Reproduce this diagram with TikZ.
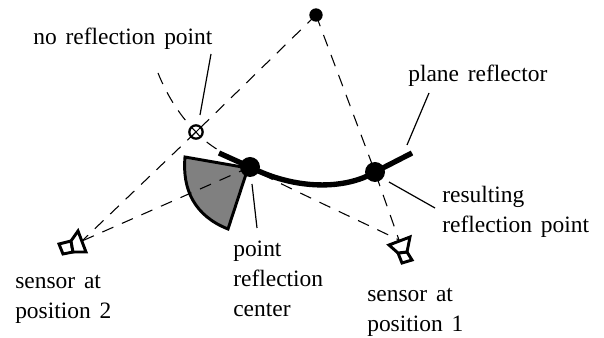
\documentclass[tikz,border=0pt]{standalone}
\usepackage{fontspec}
\setmainfont[WordSpace=1.5]{Liberation Serif}
\begin{document}
\begin{tikzpicture}[x=0.75pt,y=-0.75pt,
  dashline/.style={dash pattern=on 9pt off 7pt,line width=0.8pt},
  leader/.style={line width=0.9pt},
  sensorbox/.style={draw,line width=2.2pt,line join=miter,fill=white},
  lab/.style={font=\fontsize{17.6pt}{22.5pt}\selectfont,align=left,anchor=base west,inner sep=0pt},
  dotmark/.style={circle,fill=black,inner sep=0pt,minimum size=10pt}]
\useasboundingbox (0,0) rectangle (604,338);
\coordinate (top) at (316,15);
\coordinate (nr) at (196,132);
\coordinate (pc) at (250,167);
\coordinate (rr) at (375,172);
\coordinate (s1) at (399,240);
\coordinate (s2) at (82,241);
\coordinate (rstart) at (219,153);
\coordinate (rend) at (412,153);
% sector
\draw[line width=2.2pt,fill=black!50,line join=miter] (248,168) -- (185,157) .. controls (182,190) and (195,216) .. (228,229) -- cycle;
% dashed
\draw[dashline] (top) -- (nr);
\draw[dashline] (nr) -- (s2);
\draw[dashline] (pc) -- (s2);
\draw[dashline] (top) -- (rr) -- (s1);
\draw[dashline] (158,73) .. controls (168,98) and (182,118) .. (nr) .. controls (215,155) and (280,183) .. (s1);
% reflector
\draw[line width=4pt] (rstart) -- (pc) .. controls (295,190) and (345,190) .. (rr) -- (rend);
\node[dotmark] (p0) at (top) {};
\node[dotmark,minimum size=15pt] (p1) at (pc) {};
\node[dotmark,minimum size=15pt] (p2) at (rr) {};
\node[circle,draw,line width=1.7pt,minimum size=10pt,inner sep=0pt] (p3) at (nr) {};
\draw[line width=0.75pt] (192,136) -- (200,128);
% sensors
\draw[sensorbox] (59,244)--(71,241)--(73,252)--(63,254)--cycle;
\draw[sensorbox] (71,241)--(78,231)--(86,252)--(73,252)--cycle;
\draw[sensorbox] (398,253)--(407,252)--(412,260)--(402,263)--cycle;
\draw[sensorbox] (389,245)--(410,237)--(407,252)--(398,253)--cycle;
% labels
\node[lab] (t1) at (33,45) {no reflection point};
\node[lab] (t2) at (408,82) {plane reflector};
\node[lab] (t3) at (442,233) {resulting\\reflection point};
\node[lab] (t4) at (233,317) {point\\reflection\\center};
\node[lab] (t5) at (15,319) {sensor at\\position 2};
\node[lab] (t6) at (367,332) {sensor at\\position 1};
% leaders
\coordinate (l1) at (200,115);
\coordinate (l2) at (407,145);
\coordinate (l3) at (389,182);
\coordinate (l4) at (252,184);
\draw[leader] (211,54) -- (l1);
\draw[leader] (429,93) -- (l2);
\draw[leader] (435,208) -- (l3);
\draw[leader] (257,228) -- (l4);
\end{tikzpicture}
\end{document}
